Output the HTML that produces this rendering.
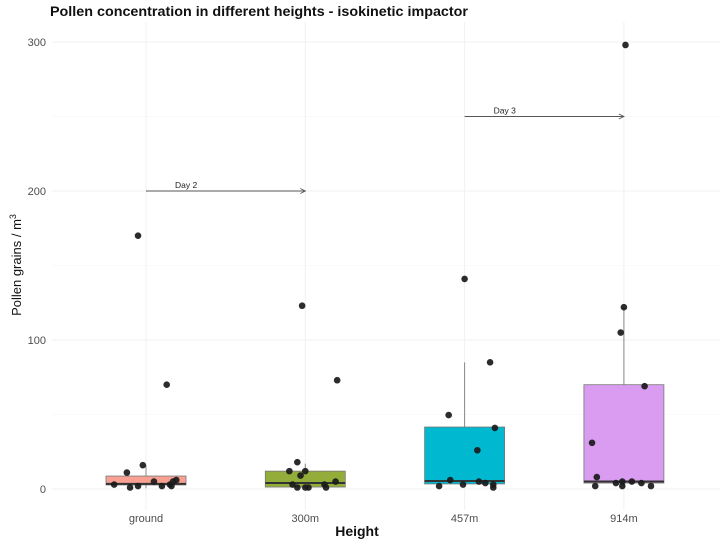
<!DOCTYPE html>
<html><head><meta charset="utf-8"><style>
body{margin:0;background:#fff}
svg{display:block;font-family:"Liberation Sans",Arial,sans-serif}
</style></head><body>
<svg id="chart" width="724" height="545" viewBox="0 0 724 545" xmlns="http://www.w3.org/2000/svg">
<text x="50" y="16" font-size="14" font-weight="bold" fill="#111" textLength="418" lengthAdjust="spacingAndGlyphs">Pollen concentration in different heights - isokinetic impactor</text>
<g id="grid"></g>
<g id="boxes"></g>
<g id="points"></g>
<g id="annot"></g>
<g id="axes"></g>
<text x="357" y="536" font-size="14" font-weight="bold" text-anchor="middle" fill="#111">Height</text>
<text transform="translate(21,265) rotate(-90)" font-size="13" text-anchor="middle" fill="#111">Pollen grains / m<tspan font-size="9" dy="-5">3</tspan></text>
</svg>
<script>
const categories=["ground","300m","457m","914m"];
const colors=["#f8a193","#93ad3a","#00b8d0","#d99cf0"];
const q1=[2.7,1.3,3.4,4];
const medians=[3.4,4,5.4,5];
const q3=[8.7,12,41.6,70];
const whiskerHigh=[16,17,85,122];
const whiskerLow=[0.5,0.5,1,1];
const yTicks=[0,100,200,300];
const ptCat=[0,0,0,0,0,0,0,0,0,0,0,0,0, 1,1,1,1,1,1,1,1,1,1,1,1,1, 2,2,2,2,2,2,2,2,2,2,2,2, 3,3,3,3,3,3,3,3,3,3,3,3,3];
const ptJitter=[-0.05,0.13,-0.02,-0.12,-0.2,-0.1,-0.05,0.05,0.1,0.15,0.17,0.19,0.16,
 -0.02,0.2,-0.05,-0.1,0,-0.03,-0.08,-0.05,0,0.02,0.12,0.13,0.19,
 0,0.16,-0.1,0.19,0.08,-0.16,-0.09,-0.01,0.09,0.13,0.18,0.18,
 0.01,0,-0.02,0.13,-0.2,-0.17,-0.18,-0.05,-0.01,-0.01,0.11,0.17,0.05];
const ptValue=[170,70,16,11,3,1,2,5,2,3,5,6,2,
 123,73,18,12,12,9,3,1,1,1,3,1,5,
 141,85,49.6,41,26,2,6,3,5,4,3,1,
 298,122,105,69,31,8,2,4,5,2,4,2,5];
const arrows=[{from:0,to:1,y:200,label:"Day 2"},{from:2,to:3,y:250,label:"Day 3"}];

const NS="http://www.w3.org/2000/svg";
const X0=146,DX=159.3,Y0=489,KY=1.49,BW=80;
const xs=i=>X0+i*DX, ys=v=>Y0-v*KY;
function mk(p,t,a){const e=document.createElementNS(NS,t);for(const k in a)e.setAttribute(k,a[k]);document.getElementById(p).appendChild(e);return e;}
[50,150,250].forEach(v=>{const e=mk('grid','line',{x1:52,x2:720,y1:ys(v),y2:ys(v),stroke:'#f6f6f6','stroke-width':0.6});

});
yTicks.forEach(v=>{const e=mk('grid','line',{x1:52,x2:720,y1:ys(v),y2:ys(v),stroke:'#f0f0f0','stroke-width':1});


const t=mk('axes','text',{x:46,y:ys(v)+4,'font-size':11,'text-anchor':'end',fill:'#4d4d4d'});t.textContent=v;

});
categories.forEach((c,i)=>{const e=mk('grid','line',{x1:xs(i),x2:xs(i),y1:22,y2:510,stroke:'#f0f0f0','stroke-width':1});


const t=mk('axes','text',{x:xs(i),y:522,'font-size':11,'text-anchor':'middle',fill:'#4d4d4d'});t.textContent=c;


const w=mk('boxes','line',{x1:xs(i),x2:xs(i),y1:ys(q3[i]),y2:ys(whiskerHigh[i]),stroke:'#888','stroke-width':1});


const w2=mk('boxes','line',{x1:xs(i),x2:xs(i),y1:ys(q1[i]),y2:ys(whiskerLow[i]),stroke:'#888','stroke-width':1});


const r=mk('boxes','rect',{x:xs(i)-BW/2,y:ys(q3[i]),width:BW,height:ys(q1[i])-ys(q3[i]),fill:colors[i],stroke:'#777','stroke-width':0.8});


const m=mk('boxes','line',{x1:xs(i)-BW/2,x2:xs(i)+BW/2,y1:ys(medians[i]),y2:ys(medians[i]),stroke:'#333','stroke-width':2});

});
ptValue.forEach((v,k)=>{const e=mk('points','circle',{cx:xs(ptCat[k]+ptJitter[k]),cy:ys(v),r:3.3,fill:'#1a1a1a','fill-opacity':0.92});

});
arrows.forEach(a=>{const x1=xs(a.from),x2=xs(a.to),y=ys(a.y);
const l=mk('annot','line',{x1:x1,x2:x2,y1:y,y2:y,stroke:'#555','stroke-width':0.9});


const h=mk('annot','path',{d:`M${x2-5},${y-2.5}L${x2},${y}L${x2-5},${y+2.5}`,fill:'none',stroke:'#555','stroke-width':0.9});


const t=mk('annot','text',{x:x1+29,y:y-3,'font-size':8.5,fill:'#222'});t.textContent=a.label;

});
</script>
</body></html>
